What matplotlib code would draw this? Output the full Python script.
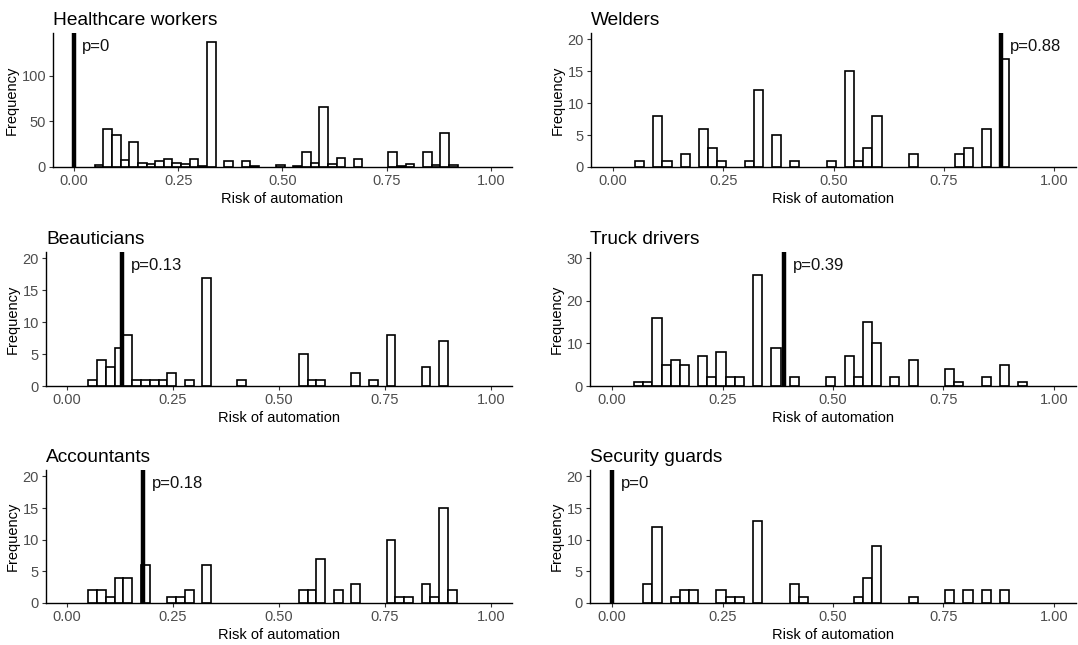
import matplotlib
matplotlib.use("Agg")
import matplotlib.pyplot as plt
import numpy as np

plt.rcParams['font.family'] = ['Liberation Sans', 'DejaVu Sans']

# Histogram bins (risk of automation), shared by all panels
bin_start = 0.05
bin_width = 0.0207

# Counts per bin, 43 bins starting at bin_start
healthcare = [2, 42, 35, 8, 27, 4, 3, 7, 9, 4, 3, 9, 1, 137, 0, 7, 0, 7, 1, 0, 0, 2,
              0, 1, 16, 4, 66, 3, 10, 0, 9, 0, 0, 0, 17, 1, 3, 0, 16, 2, 37, 2, 0]
welders = [1, 0, 8, 1, 0, 2, 0, 6, 3, 1, 0, 0, 1, 12, 0, 5, 0, 1, 0, 0, 0, 1,
           0, 15, 1, 3, 8, 0, 0, 0, 2, 0, 0, 0, 0, 2, 3, 0, 6, 0, 17, 0, 0]
beauticians = [1, 4, 3, 6, 8, 1, 1, 1, 1, 2, 0, 1, 0, 17, 0, 0, 0, 1, 0, 0, 0, 0,
               0, 0, 5, 1, 1, 0, 0, 0, 2, 0, 1, 0, 8, 0, 0, 0, 3, 0, 7, 0, 0]
truck_drivers = [1, 1, 16, 5, 6, 5, 0, 7, 2, 8, 2, 2, 0, 26, 0, 9, 0, 2, 0, 0, 0, 2,
                 0, 7, 2, 15, 10, 0, 2, 0, 6, 0, 0, 0, 4, 1, 0, 0, 2, 0, 5, 0, 1]
accountants = [2, 2, 1, 4, 4, 0, 6, 0, 0, 1, 1, 2, 0, 6, 0, 0, 0, 0, 0, 0, 0, 0,
               0, 0, 2, 2, 7, 0, 2, 0, 3, 0, 0, 0, 10, 1, 1, 0, 3, 1, 15, 2, 0]
security_guards = [0, 3, 12, 0, 1, 2, 2, 0, 0, 2, 1, 1, 0, 13, 0, 0, 0, 3, 1, 0, 0, 0,
                   0, 0, 1, 4, 9, 0, 0, 0, 1, 0, 0, 0, 2, 0, 2, 0, 2, 0, 2, 0, 0]

titles = ["Healthcare workers", "Welders", "Beauticians", "Truck drivers",
          "Accountants", "Security guards"]
p_values = [0, 0.88, 0.13, 0.39, 0.18, 0]
p_labels = ["p=0", "p=0.88", "p=0.13", "p=0.39", "p=0.18", "p=0"]
y_ticks = [[0, 50, 100], [0, 5, 10, 15, 20], [0, 5, 10, 15, 20],
           [0, 10, 20, 30], [0, 5, 10, 15, 20], [0, 5, 10, 15, 20]]
y_tops = [147, 21, 21, 31.5, 21, 21]

all_counts = [healthcare, welders, beauticians, truck_drivers, accountants, security_guards]

# panel boxes in pixels: left, top, right, bottom
W, H = 1078, 645
boxes = [(53, 33, 512, 167), (591, 33, 1076, 167),
         (46, 252, 512, 386), (590, 252, 1076, 386),
         (46, 470, 512, 603), (590, 470, 1076, 603)]

fig = plt.figure(figsize=(W / 100, H / 100), dpi=100)

for i in range(6):
    l, t, r, b = boxes[i]
    ax = fig.add_axes([l / W, 1 - b / H, (r - l) / W, (b - t) / H])
    counts = np.array(all_counts[i])
    edges = bin_start + bin_width * np.arange(len(counts))
    mask = counts > 0
    ax.bar(edges[mask], counts[mask], width=bin_width, align="edge",
           facecolor="white", edgecolor="black", linewidth=1.2, zorder=2)
    ax.axvline(p_values[i], color="black", linewidth=3.2, zorder=3)
    ax.text(p_values[i] + 0.02, y_tops[i] * 0.9, p_labels[i], fontsize=12,
            ha="left", va="center", color="#111111", zorder=4)

    ax.set_xlim(-0.05, 1.05)
    ax.set_ylim(0, y_tops[i])
    ax.set_xticks([0, 0.25, 0.5, 0.75, 1.0])
    ax.set_xticklabels(["0.00", "0.25", "0.50", "0.75", "1.00"])
    ax.set_yticks(y_ticks[i])
    ax.tick_params(axis="both", labelsize=10.5, labelcolor="#4D4D4D", color="#333333",
                   length=3, width=0.8, pad=2)
    for side in ["top", "right"]:
        ax.spines[side].set_visible(False)
    for side in ["left", "bottom"]:
        ax.spines[side].set_linewidth(1.0)
    ax.set_xlabel("Risk of automation", fontsize=10.5, labelpad=3)
    ax.set_ylabel("Frequency", fontsize=10.5, labelpad=2)
    ax.set_title(titles[i], loc="left", fontsize=13.8, pad=6)

fig.savefig("out.png", dpi=100)
